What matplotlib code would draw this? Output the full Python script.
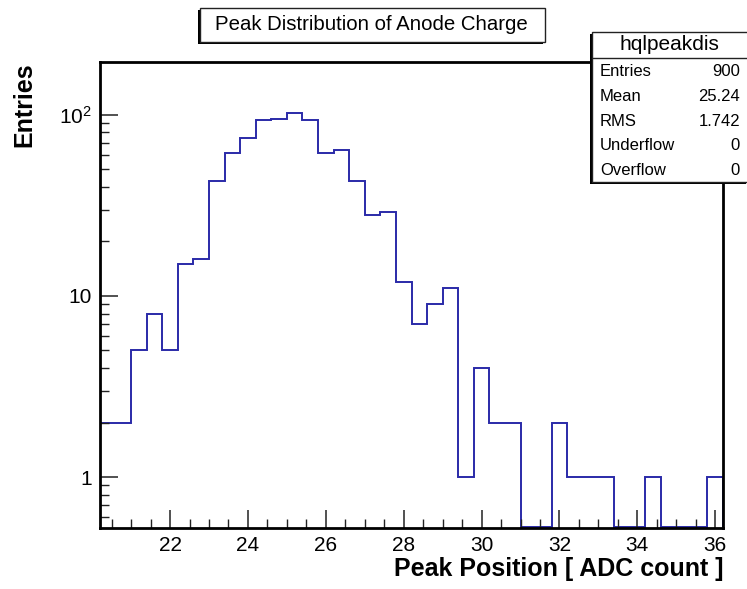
import numpy as np
import matplotlib
matplotlib.use("Agg")
import matplotlib.pyplot as plt
from matplotlib.patches import Rectangle
from matplotlib.ticker import FixedLocator, NullFormatter, MultipleLocator

plt.rcParams['font.family'] = ['Liberation Sans', 'DejaVu Sans']

# histogram: 40 bins of 0.4 from 20.2 to 36.2
x_lo = 20.2
x_hi = 36.2
n_bins = 40
counts = [2, 2, 5, 8, 5, 15, 16, 43, 62, 75,
          94, 95, 102, 94, 62, 64, 43, 28, 29, 12,
          7, 9, 11, 1, 4, 2, 2, 0, 0, 2,
          1, 1, 1, 0, 0, 1, 0, 0, 0, 1]

title = "Peak Distribution of Anode Charge"
hist_name = "hqlpeakdis"
stat_names = ["Entries", "Mean", "RMS", "Underflow", "Overflow"]
stat_values = ["900", "25.24", "1.742", "0", "0"]

W, H = 747, 589
ymin, ymax = 0.523, 196

fig = plt.figure(figsize=(W / 100, H / 100), dpi=100)
ax = fig.add_axes([100 / W, 1 - 528 / H, 623 / W, 466 / H])

edges = np.linspace(x_lo, x_hi, n_bins + 1)
vals = np.array(counts, dtype=float)
vals = np.where(vals > 0, vals, ymin * 1.01)
ax.stairs(vals, edges, baseline=ymin * 1.01, color='#2a2aa8', lw=1.4)

ax.set_yscale('log')
ax.set_xlim(x_lo, x_hi)
ax.set_ylim(ymin, ymax)

ax.xaxis.set_major_locator(MultipleLocator(2))
ax.xaxis.set_minor_locator(MultipleLocator(0.5))
ax.yaxis.set_major_locator(FixedLocator([1, 10, 100]))
ax.set_yticklabels(["1", "10", r"$\mathregular{10^{2}}$"])
minors = [m * 10 ** d for d in (-1, 0, 1, 2) for m in range(2, 10)]
ax.yaxis.set_minor_locator(FixedLocator(minors))
ax.yaxis.set_minor_formatter(NullFormatter())

ax.tick_params(which='both', direction='in', top=False, right=False,
               labelsize=15, color='#222222')
ax.tick_params(which='major', length=13, width=1.1)
ax.tick_params(which='minor', length=6.5, width=1.0)
ax.tick_params(axis='x', pad=6)
ax.tick_params(axis='y', pad=6)
for s in ax.spines.values():
    s.set_linewidth(2)
    s.set_color('black')

ax.set_xlabel("Peak Position [ ADC count ]", fontsize=18, fontweight='bold',
              loc='right', labelpad=1)
ax.set_ylabel("Entries", fontsize=18, fontweight='bold', loc='top', labelpad=16)


def px_rect(x0, y0, x1, y1, **kw):
    r = Rectangle((x0 / W, 1 - y1 / H), (x1 - x0) / W, (y1 - y0) / H,
                  transform=fig.transFigure, **kw)
    fig.add_artist(r)


# title box with shadow
px_rect(198, 10, 543, 44, facecolor='black', edgecolor='none', zorder=10)
px_rect(200, 8, 545, 42, facecolor='white', edgecolor='#222222', lw=1, zorder=11)
fig.text(371 / W, 1 - 25 / H, title, ha='center', va='center', fontsize=14.7, zorder=12)

# stats box with shadow
px_rect(590, 34, 746, 184, facecolor='black', edgecolor='none', zorder=10)
px_rect(592, 32, 749, 182, facecolor='white', edgecolor='#222222', lw=1, zorder=11)
fig.add_artist(plt.Line2D([592 / W, 1], [1 - 58 / H, 1 - 58 / H],
                          transform=fig.transFigure, color='#222222', lw=1, zorder=12))
fig.text(669 / W, 1 - 45 / H, hist_name, ha='center', va='center', fontsize=15, zorder=12)
for i, (nm, v) in enumerate(zip(stat_names, stat_values)):
    y = 1 - (72 + 24.6 * i) / H
    fig.text(600 / W, y, nm, ha='left', va='center', fontsize=12, zorder=12)
    fig.text(740 / W, y, v, ha='right', va='center', fontsize=12, zorder=12)

fig.savefig("out.png", dpi=100)
